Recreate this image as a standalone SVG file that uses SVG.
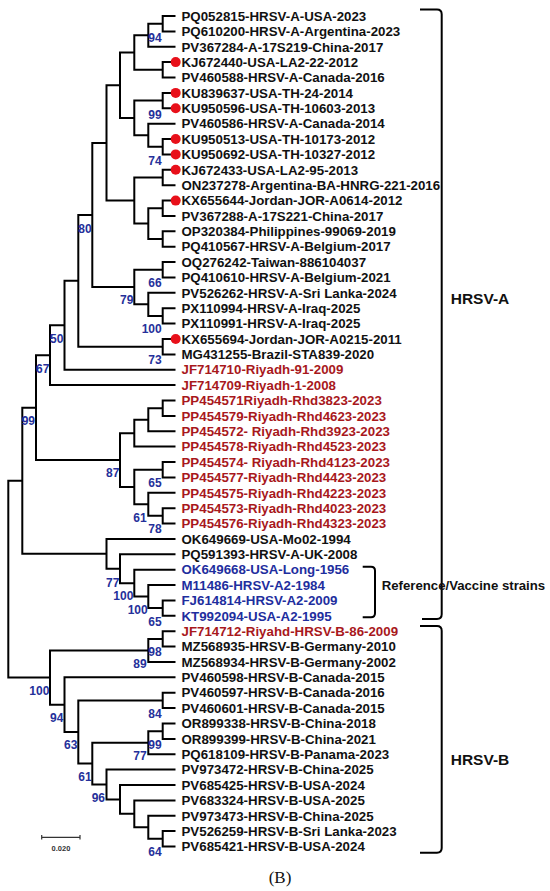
<svg xmlns="http://www.w3.org/2000/svg" width="550" height="891" viewBox="0 0 550 891">
<style>
.e{fill:none;stroke:#000;stroke-width:2}
.br{fill:none;stroke:#000;stroke-width:2}
text{font-family:"Liberation Sans",Arial,sans-serif;font-weight:bold}
.l{font-size:13.3px}
.k{fill:#111}
.r{fill:#A8181C}
.b{fill:#1E2E9E}
.bs{font-size:12px;fill:#25309A}
.dot{fill:#E8101A}
.cl{font-size:15.5px;fill:#111}
.rf{font-size:13.2px;fill:#111}
</style>
<rect width="550" height="891" fill="#fff"/>
<g id="connectors">
<path class="e" d="M175.5 16H162.7V31.4H175.5"/>
<path class="e" d="M162.7 23.7H148.3V46.8H175.5"/>
<path class="e" d="M175.5 62.1H162.7V77.5H175.5"/>
<path class="e" d="M148.3 35.25H134.3V69.8H162.7"/>
<path class="e" d="M175.5 92.9H162.7V108.3H175.5"/>
<path class="e" d="M175.5 139H162.7V154.4H175.5"/>
<path class="e" d="M175.5 123.7H148.3V146.7H162.7"/>
<path class="e" d="M162.7 100.6H134.3V135.2H148.3"/>
<path class="e" d="M134.3 52.5H120V117.9H134.3"/>
<path class="e" d="M175.5 169.8H162.7V185.2H175.5"/>
<path class="e" d="M175.5 200.6H162.7V215.9H175.5"/>
<path class="e" d="M175.5 231.3H162.7V246.7H175.5"/>
<path class="e" d="M162.7 208.25H148.3V239H162.7"/>
<path class="e" d="M162.7 177.5H134.3V223.6H148.3"/>
<path class="e" d="M120 85.2H106.5V200.55H134.3"/>
<path class="e" d="M175.5 262.1H162.7V277.5H175.5"/>
<path class="e" d="M175.5 308.2H162.7V323.6H175.5"/>
<path class="e" d="M175.5 292.8H148.3V315.9H162.7"/>
<path class="e" d="M162.7 269.8H134.3V304.35H148.3"/>
<path class="e" d="M106.5 142.9H92.3V287.1H134.3"/>
<path class="e" d="M175.5 339H162.7V354.4H175.5"/>
<path class="e" d="M92.3 215H78.3V346.7H162.7"/>
<path class="e" d="M78.3 280.85H64.5V369.7H175.5"/>
<path class="e" d="M64.5 325.3H50V385.1H175.5"/>
<path class="e" d="M175.5 400.5H162.7V415.9H175.5"/>
<path class="e" d="M162.7 408.2H148.3V431.3H175.5"/>
<path class="e" d="M148.3 419.75H134.3V446.6H175.5"/>
<path class="e" d="M175.5 462H162.7V477.4H175.5"/>
<path class="e" d="M175.5 508.2H162.7V523.5H175.5"/>
<path class="e" d="M175.5 492.8H148.3V515.85H162.7"/>
<path class="e" d="M162.7 469.7H134.3V504.3H148.3"/>
<path class="e" d="M134.3 433.2H120V487H134.3"/>
<path class="e" d="M50 355.2H36V460.1H120"/>
<path class="e" d="M175.5 600.4H162.7V615.8H175.5"/>
<path class="e" d="M175.5 585.1H148.3V608.1H162.7"/>
<path class="e" d="M175.5 569.7H134.3V596.6H148.3"/>
<path class="e" d="M175.5 554.3H120V583.15H134.3"/>
<path class="e" d="M175.5 538.9H106.5V568.7H120"/>
<path class="e" d="M36 407.65H22.3V553.8H106.5"/>
<path class="e" d="M175.5 631.2H162.7V646.6H175.5"/>
<path class="e" d="M162.7 638.9H148.3V662H175.5"/>
<path class="e" d="M175.5 692.7H162.7V708.1H175.5"/>
<path class="e" d="M175.5 723.5H162.7V738.9H175.5"/>
<path class="e" d="M162.7 731.2H148.3V754.2H175.5"/>
<path class="e" d="M175.5 831.1H162.7V846.5H175.5"/>
<path class="e" d="M175.5 815.8H148.3V838.8H162.7"/>
<path class="e" d="M175.5 800.4H134.3V827.3H148.3"/>
<path class="e" d="M175.5 785H120V813.85H134.3"/>
<path class="e" d="M175.5 769.6H106.5V799.4H120"/>
<path class="e" d="M148.3 742.7H92.3V784.5H106.5"/>
<path class="e" d="M162.7 700.4H78.3V763.6H92.3"/>
<path class="e" d="M175.5 677.3H64.5V732H78.3"/>
<path class="e" d="M148.3 650.5H50V704.7H64.5"/>
<path class="e" d="M22.3 480.7H8.3V677.6H50"/>
</g>
<g id="bootstrap" class="bs">
<text x="148.3" y="42">94</text>
<text x="148.3" y="119.3">99</text>
<text x="148.3" y="165.3">74</text>
<text x="78.3" y="233.3">80</text>
<text x="148.3" y="287">66</text>
<text x="120" y="304.3">79</text>
<text x="141.7" y="333.3">100</text>
<text x="50" y="342.6">50</text>
<text x="148.3" y="364.3">73</text>
<text x="36" y="372.6">67</text>
<text x="21.7" y="425">99</text>
<text x="106" y="477">87</text>
<text x="148.3" y="487">65</text>
<text x="133.3" y="521.6">61</text>
<text x="148.3" y="533.3">78</text>
<text x="106" y="586.6">77</text>
<text x="113.3" y="600">100</text>
<text x="127.7" y="614.3">100</text>
<text x="148.3" y="626">65</text>
<text x="148.3" y="656">98</text>
<text x="133.3" y="667.6">89</text>
<text x="29.3" y="695">100</text>
<text x="148.3" y="717.6">84</text>
<text x="50" y="721.6">94</text>
<text x="64" y="749.3">63</text>
<text x="148.3" y="748.6">99</text>
<text x="133.3" y="760">77</text>
<text x="78.3" y="781">61</text>
<text x="91.7" y="801.6">96</text>
<text x="148.3" y="856">64</text>
</g>
<g id="leaves" class="l">
<g id="n0"><text class="k" x="181.5" y="20.7">PQ052815-HRSV-A-USA-2023</text></g>
<g id="n1"><text class="k" x="181.5" y="36.1">PQ610200-HRSV-A-Argentina-2023</text></g>
<g id="n2"><text class="k" x="181.5" y="51.5">PV367284-A-17S219-China-2017</text></g>
<g id="n3"><circle class="dot" cx="175.7" cy="62.1" r="5"/><text class="k" x="181.5" y="66.8">KJ672440-USA-LA2-22-2012</text></g>
<g id="n4"><text class="k" x="181.5" y="82.2">PV460588-HRSV-A-Canada-2016</text></g>
<g id="n5"><circle class="dot" cx="175.7" cy="92.9" r="5"/><text class="k" x="181.5" y="97.6">KU839637-USA-TH-24-2014</text></g>
<g id="n6"><circle class="dot" cx="175.7" cy="108.3" r="5"/><text class="k" x="181.5" y="113">KU950596-USA-TH-10603-2013</text></g>
<g id="n7"><text class="k" x="181.5" y="128.4">PV460586-HRSV-A-Canada-2014</text></g>
<g id="n8"><circle class="dot" cx="175.7" cy="139" r="5"/><text class="k" x="181.5" y="143.7">KU950513-USA-TH-10173-2012</text></g>
<g id="n9"><circle class="dot" cx="175.7" cy="154.4" r="5"/><text class="k" x="181.5" y="159.1">KU950692-USA-TH-10327-2012</text></g>
<g id="n10"><circle class="dot" cx="175.7" cy="169.8" r="5"/><text class="k" x="181.5" y="174.5">KJ672433-USA-LA2-95-2013</text></g>
<g id="n11"><text class="k" x="181.5" y="189.9">ON237278-Argentina-BA-HNRG-221-2016</text></g>
<g id="n12"><circle class="dot" cx="175.7" cy="200.6" r="5"/><text class="k" x="181.5" y="205.3">KX655644-Jordan-JOR-A0614-2012</text></g>
<g id="n13"><text class="k" x="181.5" y="220.6">PV367288-A-17S221-China-2017</text></g>
<g id="n14"><text class="k" x="181.5" y="236">OP320384-Philippines-99069-2019</text></g>
<g id="n15"><text class="k" x="181.5" y="251.4">PQ410567-HRSV-A-Belgium-2017</text></g>
<g id="n16"><text class="k" x="181.5" y="266.8">OQ276242-Taiwan-886104037</text></g>
<g id="n17"><text class="k" x="181.5" y="282.2">PQ410610-HRSV-A-Belgium-2021</text></g>
<g id="n18"><text class="k" x="181.5" y="297.5">PV526262-HRSV-A-Sri Lanka-2024</text></g>
<g id="n19"><text class="k" x="181.5" y="312.9">PX110994-HRSV-A-Iraq-2025</text></g>
<g id="n20"><text class="k" x="181.5" y="328.3">PX110991-HRSV-A-Iraq-2025</text></g>
<g id="n21"><circle class="dot" cx="175.7" cy="339" r="5"/><text class="k" x="181.5" y="343.7">KX655694-Jordan-JOR-A0215-2011</text></g>
<g id="n22"><text class="k" x="181.5" y="359.1">MG431255-Brazil-STA839-2020</text></g>
<g id="n23"><text class="r" x="181.5" y="374.4">JF714710-Riyadh-91-2009</text></g>
<g id="n24"><text class="r" x="181.5" y="389.8">JF714709-Riyadh-1-2008</text></g>
<g id="n25"><text class="r" x="181.5" y="405.2">PP454571Riyadh-Rhd3823-2023</text></g>
<g id="n26"><text class="r" x="181.5" y="420.6">PP454579-Riyadh-Rhd4623-2023</text></g>
<g id="n27"><text class="r" x="181.5" y="436">PP454572- Riyadh-Rhd3923-2023</text></g>
<g id="n28"><text class="r" x="181.5" y="451.3">PP454578-Riyadh-Rhd4523-2023</text></g>
<g id="n29"><text class="r" x="181.5" y="466.7">PP454574- Riyadh-Rhd4123-2023</text></g>
<g id="n30"><text class="r" x="181.5" y="482.1">PP454577-Riyadh-Rhd4423-2023</text></g>
<g id="n31"><text class="r" x="181.5" y="497.5">PP454575-Riyadh-Rhd4223-2023</text></g>
<g id="n32"><text class="r" x="181.5" y="512.9">PP454573-Riyadh-Rhd4023-2023</text></g>
<g id="n33"><text class="r" x="181.5" y="528.2">PP454576-Riyadh-Rhd4323-2023</text></g>
<g id="n34"><text class="k" x="181.5" y="543.6">OK649669-USA-Mo02-1994</text></g>
<g id="n35"><text class="k" x="181.5" y="559">PQ591393-HRSV-A-UK-2008</text></g>
<g id="n36"><text class="b" x="181.5" y="574.4">OK649668-USA-Long-1956</text></g>
<g id="n37"><text class="b" x="181.5" y="589.8">M11486-HRSV-A2-1984</text></g>
<g id="n38"><text class="b" x="181.5" y="605.1">FJ614814-HRSV-A2-2009</text></g>
<g id="n39"><text class="b" x="181.5" y="620.5">KT992094-USA-A2-1995</text></g>
<g id="n40"><text class="r" x="181.5" y="635.9">JF714712-Riyahd-HRSV-B-86-2009</text></g>
<g id="n41"><text class="k" x="181.5" y="651.3">MZ568935-HRSV-B-Germany-2010</text></g>
<g id="n42"><text class="k" x="181.5" y="666.7">MZ568934-HRSV-B-Germany-2002</text></g>
<g id="n43"><text class="k" x="181.5" y="682">PV460598-HRSV-B-Canada-2015</text></g>
<g id="n44"><text class="k" x="181.5" y="697.4">PV460597-HRSV-B-Canada-2016</text></g>
<g id="n45"><text class="k" x="181.5" y="712.8">PV460601-HRSV-B-Canada-2015</text></g>
<g id="n46"><text class="k" x="181.5" y="728.2">OR899338-HRSV-B-China-2018</text></g>
<g id="n47"><text class="k" x="181.5" y="743.6">OR899399-HRSV-B-China-2021</text></g>
<g id="n48"><text class="k" x="181.5" y="758.9">PQ618109-HRSV-B-Panama-2023</text></g>
<g id="n49"><text class="k" x="181.5" y="774.3">PV973472-HRSV-B-China-2025</text></g>
<g id="n50"><text class="k" x="181.5" y="789.7">PV685425-HRSV-B-USA-2024</text></g>
<g id="n51"><text class="k" x="181.5" y="805.1">PV683324-HRSV-B-USA-2025</text></g>
<g id="n52"><text class="k" x="181.5" y="820.5">PV973473-HRSV-B-China-2025</text></g>
<g id="n53"><text class="k" x="181.5" y="835.8">PV526259-HRSV-B-Sri Lanka-2023</text></g>
<g id="n54"><text class="k" x="181.5" y="851.2">PV685421-HRSV-B-USA-2024</text></g>
</g>
<g id="groups">
<path class="br" d="M420 9.5H437Q441.7 9.5 441.7 14.2V614.3Q441.7 619 437 619H422"/>
<text class="cl" x="450.7" y="304.3">HRSV-A</text>
<path class="br" d="M420 626H437Q441.7 626 441.7 630.7V848Q441.7 852.7 437 852.7H420"/>
<text class="cl" x="450.7" y="764.5">HRSV-B</text>
<path class="br" d="M362.7 566.7H371Q375 566.7 375 570.7V613.3Q375 617.3 371 617.3H362.7"/>
<text class="rf" x="381.7" y="589.5">Reference/Vaccine strains</text>
</g>
<g id="scale">
<path d="M41.7 837.3H80M41.7 835V839.6M80 835V839.6" fill="none" stroke="#333" stroke-width="1.2"/>
<text x="61" y="850.8" text-anchor="middle" style="font-size:7.5px;fill:#333">0.020</text>
</g>
<text x="280" y="882.5" text-anchor="middle" style="font-family:'Liberation Serif','Times New Roman',serif;font-weight:normal;font-size:17px;fill:#111">(B)</text>
</svg>
